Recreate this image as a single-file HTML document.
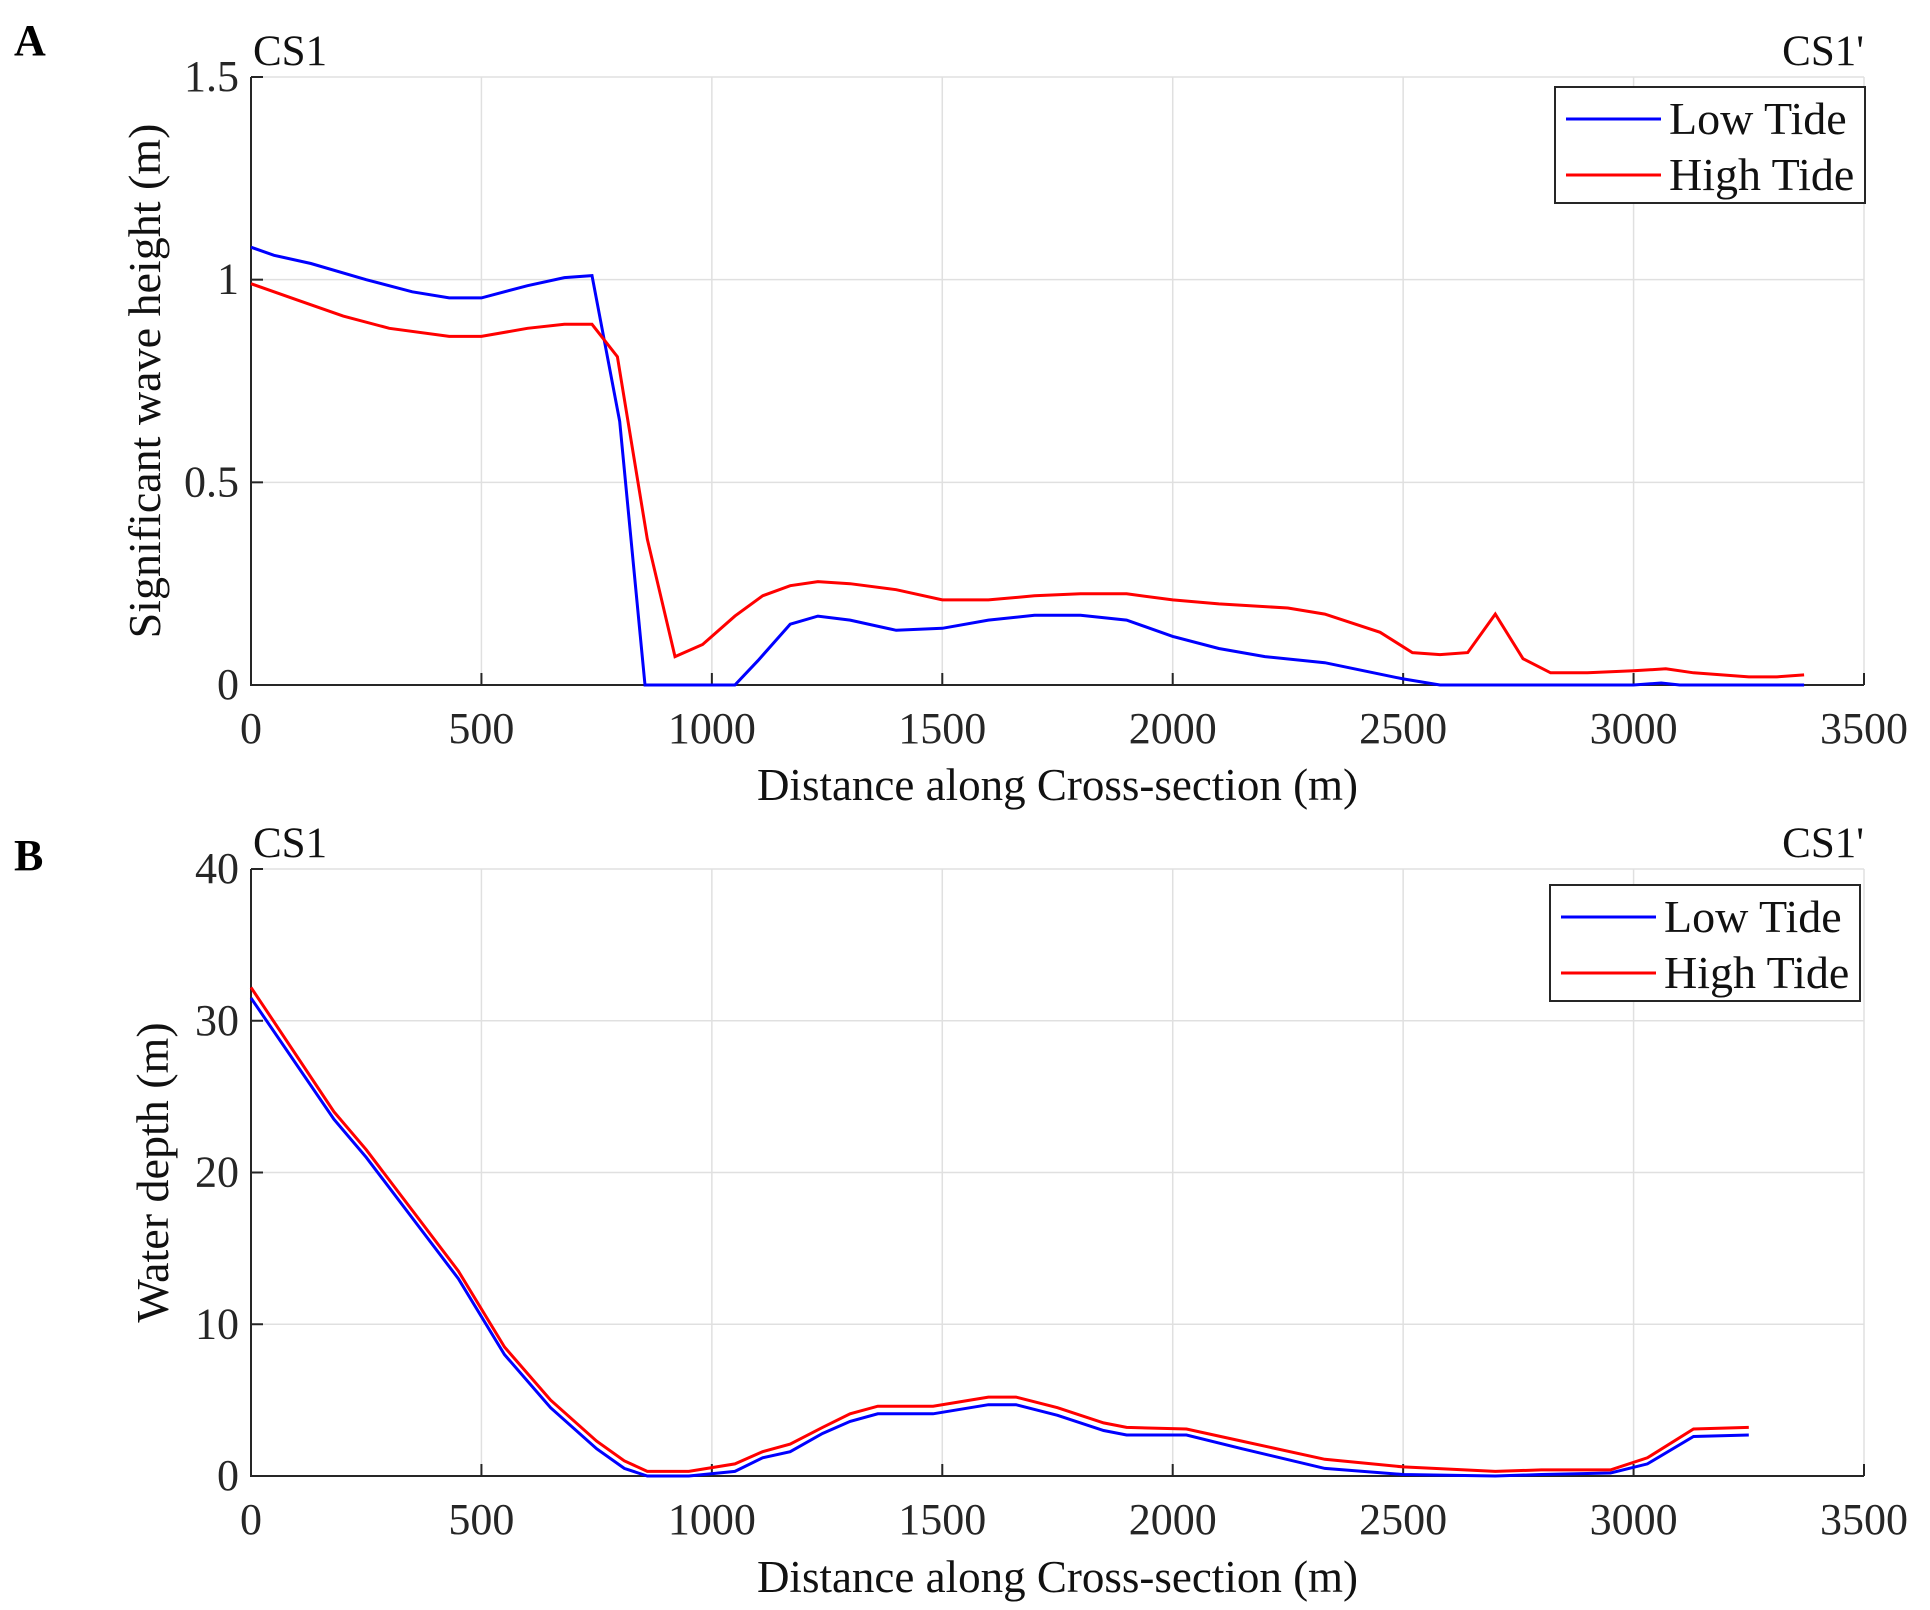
<!DOCTYPE html>
<html><head><meta charset="utf-8"><style>
html,body{margin:0;padding:0;background:#fff;}
svg{display:block;font-family:"Liberation Serif",serif;}
</style></head><body>
<svg id="fig" width="1930" height="1610" viewBox="0 0 1930 1610"></svg>
<script>
const xTicks=[0,500,1000,1500,2000,2500,3000,3500];
const aTicks=[0,0.5,1,1.5];
const bTicks=[0,10,20,30,40];
const aLowX=[0,50,130,250,350,430,500,600,680,740,800,855,1050,1100,1170,1230,1300,1400,1500,1600,1700,1800,1900,2000,2100,2200,2330,2500,2580,3000,3060,3100,3370];
const aLowY=[1.08,1.06,1.04,1.0,0.97,0.955,0.955,0.985,1.005,1.01,0.65,0,0,0.06,0.15,0.17,0.16,0.135,0.14,0.16,0.172,0.172,0.16,0.12,0.09,0.07,0.055,0.015,0,0,0.005,0,0];
const aHighX=[0,100,200,300,430,500,600,680,740,795,860,920,980,1050,1110,1170,1230,1300,1400,1500,1600,1700,1800,1900,2000,2100,2250,2330,2450,2520,2580,2640,2700,2760,2820,2900,3000,3070,3130,3250,3310,3370];
const aHighY=[0.99,0.95,0.91,0.88,0.86,0.86,0.88,0.89,0.89,0.81,0.36,0.07,0.1,0.17,0.22,0.245,0.255,0.25,0.235,0.21,0.21,0.22,0.225,0.225,0.21,0.2,0.19,0.175,0.13,0.08,0.075,0.08,0.175,0.065,0.03,0.03,0.035,0.04,0.03,0.02,0.02,0.025];
const bX=[0,180,250,350,450,550,650,750,810,860,950,1050,1110,1170,1240,1300,1360,1480,1600,1660,1750,1850,1900,2030,2150,2330,2500,2700,2800,2950,3030,3130,3250];
const bLowY=[31.5,23.5,21,17,13,8,4.5,1.8,0.5,0,0,0.3,1.2,1.6,2.8,3.6,4.1,4.1,4.7,4.7,4,3,2.7,2.7,1.8,0.5,0.1,0,0.1,0.2,0.8,2.6,2.7];
const bHighY=[32.2,24,21.5,17.5,13.5,8.5,5,2.3,1,0.3,0.3,0.8,1.6,2.1,3.2,4.1,4.6,4.6,5.2,5.2,4.5,3.5,3.2,3.1,2.3,1.1,0.6,0.3,0.4,0.4,1.2,3.1,3.2];

const NS="http://www.w3.org/2000/svg";
const svg=document.getElementById('fig');
function mk(tag,attrs,parent,text){const e=document.createElementNS(NS,tag);for(const k in attrs)e.setAttribute(k,attrs[k]);if(text!==undefined)e.textContent=text;(parent||svg).appendChild(e);return e;}

function panel(p){
  const L=251,R=1864,T=p.top,B=p.bottom;
  const sx=v=>L+(v-0)/3500*(R-L);
  const sy=v=>B-(v-p.ymin)/(p.ymax-p.ymin)*(B-T);
  const g=mk('g',{});
  
  
  xTicks.forEach(t=>{const l=mk('line',{x1:sx(t),x2:sx(t),y1:T,y2:B,stroke:'#e0e0e0','stroke-width':1.5},g);
    });
  p.yt.forEach(t=>{const l=mk('line',{x1:L,x2:R,y1:sy(t),y2:sy(t),stroke:'#e0e0e0','stroke-width':1.5},g);
    });
  const ax=mk('path',{d:`M${L},${T}V${B}H${R}`,fill:'none',stroke:'#262626','stroke-width':2},g);
  
  xTicks.forEach(t=>{mk('line',{x1:sx(t),x2:sx(t),y1:B,y2:B-12,stroke:'#262626','stroke-width':2},g);
    const tx=mk('text',{x:sx(t),y:B+58,'text-anchor':'middle','font-size':44,fill:'#262626'},g,String(t));
    });
  p.yt.forEach(t=>{mk('line',{x1:L,x2:L+12,y1:sy(t),y2:sy(t),stroke:'#262626','stroke-width':2},g);
    const tx=mk('text',{x:L-12,y:sy(t)+14,'text-anchor':'end','font-size':44,fill:'#262626'},g,String(t));
    });
  p.series.forEach(s=>{
    const d=s.x.map((x,i)=>(i?'L':'M')+sx(x).toFixed(1)+','+sy(s.y[i]).toFixed(1)).join('');
    const pa=mk('path',{d:d,fill:'none',stroke:s.color,'stroke-width':3},g);
    
  });
  const xt=mk('text',{x:(L+R)/2,y:p.xtY,'text-anchor':'middle','font-size':45,fill:'#111'},g,'Distance along Cross-section (m)');
  
  const yt=mk('text',{x:0,y:0,transform:`translate(${p.ytX},${(T+B)/2}) rotate(-90)`,'text-anchor':'middle','font-size':46,fill:'#111'},g,p.ytitle);
  
  const c1=mk('text',{x:L+2,y:T-12,'font-size':43,fill:'#111'},g,'CS1');
  
  const c2=mk('text',{x:R,y:T-12,'text-anchor':'end','font-size':43,fill:'#111'},g,"CS1'");
  
  const pl=mk('text',{x:14,y:p.lblY,'font-size':44,'font-weight':'bold',fill:'#000'},g,p.letter);
  
  const lg=mk('g',{},g);
  
  const lx=p.leg[0],ly=p.leg[1],lw=310,lh=116;
  mk('rect',{x:lx,y:ly,width:lw,height:lh,fill:'#fff',stroke:'#262626','stroke-width':2},lg);
  [['Low Tide','#0000ff'],['High Tide','#ff0000']].forEach((e,i)=>{
    const ey=ly+32+i*56;
    const en=mk('g',{},lg);
    
    mk('line',{x1:lx+11,x2:lx+106,y1:ey,y2:ey,stroke:e[1],'stroke-width':3},en);
    mk('text',{x:lx+114,y:ey+15,'font-size':46,fill:'#111'},en,e[0]);
  });
}
panel({name:'panel-a-wave-height',top:77,bottom:685,ymin:0,ymax:1.5,yt:aTicks,xtY:800,ytX:160,ytitle:'Significant wave height (m)',lblY:55,letter:'A',leg:[1555,87],
  series:[{name:'low-tide-line',x:aLowX,y:aLowY,color:'#0000ff'},{name:'high-tide-line',x:aHighX,y:aHighY,color:'#ff0000'}]});
panel({name:'panel-b-water-depth',top:869,bottom:1476,ymin:0,ymax:40,yt:bTicks,xtY:1592,ytX:168,ytitle:'Water depth (m)',lblY:870,letter:'B',leg:[1550,885],
  series:[{name:'low-tide-line',x:bX,y:bLowY,color:'#0000ff'},{name:'high-tide-line',x:bX,y:bHighY,color:'#ff0000'}]});
</script>
</body></html>
